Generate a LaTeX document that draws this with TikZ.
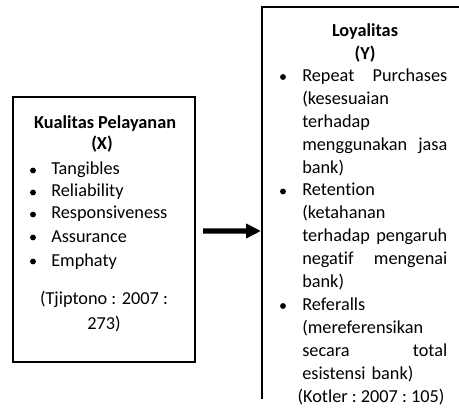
\documentclass[tikz,border=0pt]{standalone}
\usepackage{fontspec}
\setmainfont{Carlito}[Ligatures=NoCommon]
\usetikzlibrary{arrows.meta}

\begin{document}
\begin{tikzpicture}[x=0.75pt,y=-0.75pt,
  every node/.style={font=\fontsize{13.7}{16}\selectfont,inner sep=0pt},
  frame/.style={draw,line width=1.6pt},
  head/.style={font=\fontsize{13.7}{16}\selectfont\bfseries,anchor=base},
  item/.style={anchor=base west,text width=108.75pt,align=left},
  link/.style={line width=4pt,-{Triangle[length=11.25pt,width=10.5pt]}}]
  \useasboundingbox (0,0) rectangle (459,409);

  % left box: Kualitas Pelayanan
  \node[frame,minimum width=136.5pt,minimum height=198.75pt] (kp) at (104,229.5) {};
  \node[head] (kptitle) at (105,129) {Kualitas Pelayanan};
  \node[head] (kpx) at (102,150) {(X)};
  \foreach \y/\lab in {175/Tangibles,197/Reliability,219/Responsiveness,242/Assurance,266/Emphaty} {
    \fill (33,\y-4.5) circle (2.2pt);
    \node[anchor=base west] (kp-\y) at (51,\y) {\lab};
  }
  \node[anchor=base] (kpsrc1) at (104,304) {(Tjiptono : 2007 :};
  \node[anchor=base] (kpsrc2) at (104,329) {273)};

  % right box: Loyalitas (cut off at the right and bottom)
  \draw[frame] (262,399) -- (262,7) -- (470,7);
  \coordinate (loy) at (261,231);
  \node[head] (loytitle) at (365,37) {Loyalitas};
  \node[head] (loyy) at (365,60) {(Y)};
  \foreach \n in {0,5,10}
    \fill (283,81.5+22.9*\n-4.5) circle (2.2pt);
  \foreach \n/\txt in {0/Repeat\hfill Purchases,1/(kesesuaian,2/terhadap,
      3/menggunakan\hfill jasa,4/bank),5/Retention,6/(ketahanan,
      7/terhadap\hfill pengaruh,8/negatif\hfill mengenai,9/bank),
      10/Referalls,11/(mereferensikan,12/secara\hfill total,13/esistensi bank)}
    \node[item] (loy-\n) at (302,81.5+22.9*\n) {\txt};
  \node[anchor=base] (loysrc) at (371,402) {(Kotler\ :\ 2007\ :\ 105)};

  \draw[link] ([xshift=5.25pt,yshift=-1.1pt]kp.east) -- (loy);
\end{tikzpicture}
\end{document}
